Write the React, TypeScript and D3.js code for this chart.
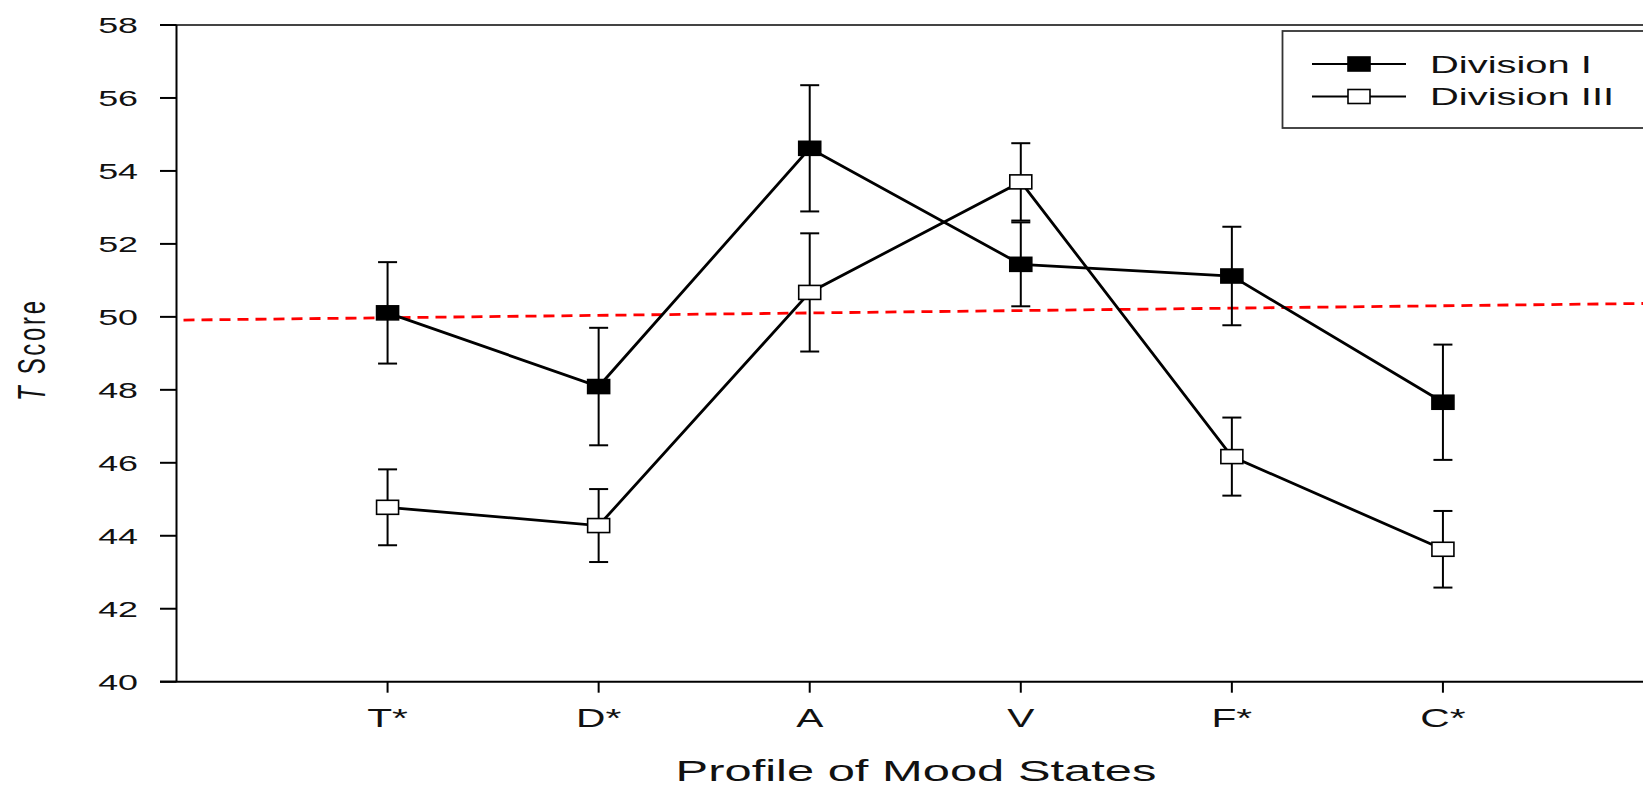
import React from 'react'
import { scaleLinear, scalePoint, line } from 'd3'

// Data
const categories = ['T*', 'D*', 'A', 'V', 'F*', 'C*']
const div1Means = [50.11, 48.09, 54.62, 51.44, 51.12, 47.66]
const div1Err = [1.39, 1.61, 1.73, 1.15, 1.35, 1.58]
const div3Means = [44.78, 44.28, 50.67, 53.7, 46.17, 43.63]
const div3Err = [1.04, 1.0, 1.62, 1.06, 1.07, 1.05]
const yTicks = [40, 42, 44, 46, 48, 50, 52, 54, 56, 58]
const refLineEnds = [49.91, 50.37] // red dashed line, left / right end
const seriesNames = ['Division I', 'Division III']

const W = 1643
const H = 788
const SX = 1.63 // the original figure is stretched sideways
const FONT = 'Liberation Sans, Arial, Helvetica, sans-serif'

const plot = { left: 176.5, right: 1654, top: 25, bottom: 681.7 }

const App = () => {
    const x = scalePoint().domain(categories).range([plot.left, plot.right]).padding(1)
    const y = scaleLinear().domain([40, 58]).range([plot.bottom, plot.top])

    const path = line<number>()
        .x((d, i) => x(categories[i]) as number)
        .y((d) => y(d))

    const series = [
        { means: div1Means, err: div1Err, fill: '#000' },
        { means: div3Means, err: div3Err, fill: '#fff' },
    ]

    const mw = 22
    const mh = 14
    const cap = 9.5

    return (
        <svg width={W} height={H} style={{ position: 'absolute', left: 0, top: 0, background: '#fff' }}>
            {/* top frame line */}
            <line x1={160} x2={W} y1={plot.top} y2={plot.top} stroke="#444" strokeWidth={2} />
            {/* left axis */}
            <line x1={plot.left} x2={plot.left} y1={plot.top} y2={plot.bottom} stroke="#000" strokeWidth={2} />
            {/* bottom axis */}
            <line x1={160} x2={W} y1={plot.bottom} y2={plot.bottom} stroke="#000" strokeWidth={2} />

            {yTicks.map((t) => (
                <g key={'y' + t}>
                    <line x1={160} x2={plot.left} y1={y(t)} y2={y(t)} stroke="#000" strokeWidth={2} />
                    <text
                        transform={`translate(138,${y(t) + 8}) scale(${SX},1)`}
                        textAnchor="end"
                        fontFamily={FONT}
                        fontSize={22}
                        fill="#111"
                    >
                        {t}
                    </text>
                </g>
            ))}

            {categories.map((c) => (
                <g key={'x' + c}>
                    <line x1={x(c)} x2={x(c)} y1={plot.bottom} y2={plot.bottom + 11} stroke="#000" strokeWidth={2} />
                    <text
                        transform={`translate(${x(c)},727) scale(${SX},1)`}
                        textAnchor="middle"
                        fontFamily={FONT}
                        fontSize={25}
                        fill="#111"
                    >
                        {c}
                    </text>
                </g>
            ))}

            {/* axis titles */}
            <text
                transform={`translate(916,781) scale(${SX},1)`}
                textAnchor="middle"
                fontFamily={FONT}
                fontSize={30}
                fill="#111"
            >
                Profile of Mood States
            </text>
            <text
                transform={`translate(45,351) scale(${SX},1) rotate(-90)`}
                textAnchor="middle"
                fontFamily={FONT}
                fontSize={24}
                fill="#111"
                textLength={100}
                lengthAdjust="spacing"
            >
                <tspan fontStyle="italic">T</tspan> Score
            </text>

            {/* red dashed reference line */}
            <line
                x1={plot.left}
                x2={plot.right}
                y1={y(refLineEnds[0])}
                y2={y(refLineEnds[1])}
                stroke="#ff0000"
                strokeWidth={2.8}
                strokeDasharray="11 7"
                strokeDashoffset={11}
            />

            {/* connecting lines */}
            {series.map((s, si) => (
                <path key={'l' + si} d={path(s.means) as string} fill="none" stroke="#000" strokeWidth={2.8} />
            ))}

            {/* error bars */}
            {series.map((s, si) =>
                s.means.map((m, i) => {
                    const cx = x(categories[i]) as number
                    const y1 = y(m + s.err[i])
                    const y0 = y(m - s.err[i])
                    return (
                        <g key={'e' + si + i} stroke="#000" strokeWidth={2}>
                            <line x1={cx} x2={cx} y1={y1} y2={y0} />
                            <line x1={cx - cap} x2={cx + cap} y1={y1} y2={y1} />
                            <line x1={cx - cap} x2={cx + cap} y1={y0} y2={y0} />
                        </g>
                    )
                })
            )}

            {/* markers */}
            {series.map((s, si) =>
                s.means.map((m, i) => (
                    <rect
                        key={'m' + si + i}
                        x={(x(categories[i]) as number) - mw / 2}
                        y={y(m) - mh / 2}
                        width={mw}
                        height={mh}
                        fill={s.fill}
                        stroke="#000"
                        strokeWidth={1.6}
                    />
                ))
            )}

            {/* legend */}
            <rect x={1282.5} y={31} width={400} height={97} fill="#fff" stroke="#333" strokeWidth={1.8} />
            {seriesNames.map((name, i) => {
                const ly = 64 + i * 32.5
                return (
                    <g key={'lg' + i}>
                        <line x1={1312} x2={1406} y1={ly} y2={ly} stroke="#000" strokeWidth={2.2} />
                        <rect
                            x={1359 - mw / 2}
                            y={ly - mh / 2}
                            width={mw}
                            height={mh}
                            fill={series[i].fill}
                            stroke="#000"
                            strokeWidth={1.6}
                        />
                        <text
                            transform={`translate(1430,${ly + 8.5}) scale(${SX},1)`}
                            fontFamily={FONT}
                            fontSize={24.5}
                            fill="#111"
                        >
                            {name}
                        </text>
                    </g>
                )
            })}
        </svg>
    )
}

export default App
